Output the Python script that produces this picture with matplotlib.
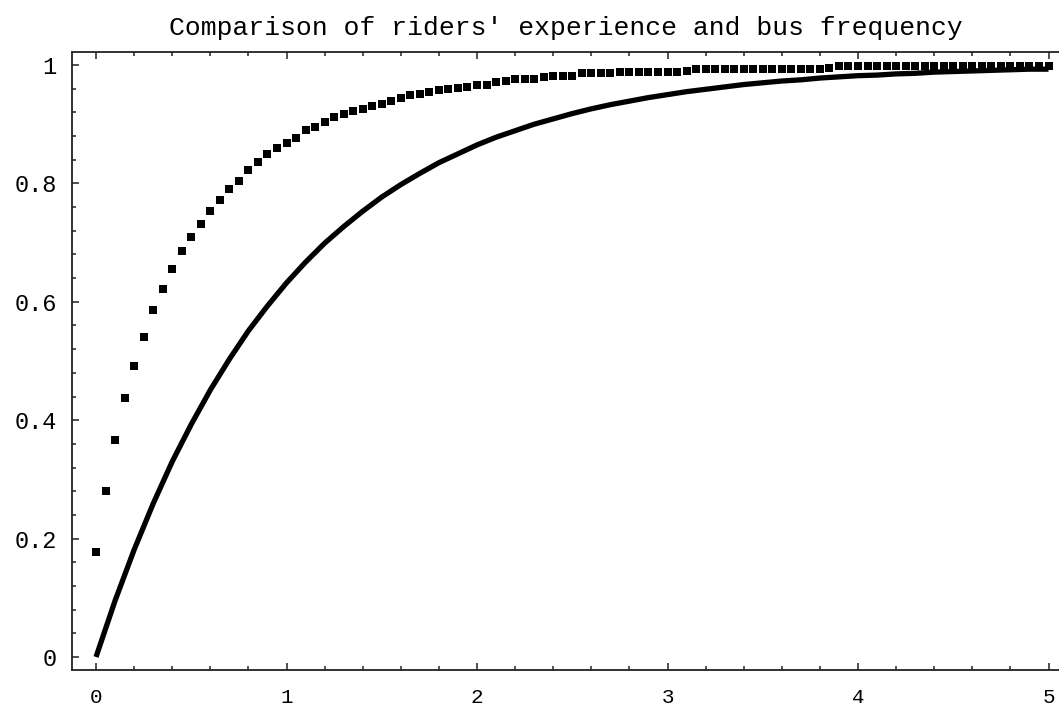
import numpy as np
import matplotlib.pyplot as plt
from matplotlib.ticker import MultipleLocator, FixedLocator

TITLE = "Comparison of riders' experience and bus frequency"

# riders' experience, sampled every 0.05 (square markers)
riders = [0.177, 0.280, 0.366, 0.438, 0.492, 0.541, 0.587, 0.622, 0.655, 0.686,
          0.710, 0.732, 0.754, 0.772, 0.790, 0.804, 0.823, 0.836, 0.849, 0.859,
          0.868, 0.877, 0.890, 0.895, 0.904, 0.913, 0.918, 0.922, 0.926, 0.931,
          0.935, 0.940, 0.944, 0.950, 0.951, 0.954, 0.958, 0.959, 0.962, 0.963,
          0.967, 0.967, 0.972, 0.973, 0.976, 0.976, 0.977, 0.980, 0.981, 0.981,
          0.982, 0.986, 0.986, 0.986, 0.987, 0.989, 0.989, 0.989, 0.989, 0.989,
          0.989, 0.989, 0.990, 0.994, 0.994, 0.994, 0.994, 0.994, 0.994, 0.994,
          0.994, 0.994, 0.994, 0.994, 0.994, 0.994, 0.994, 0.995, 0.999, 0.999,
          0.999, 0.999, 0.999, 0.999, 0.999, 0.999, 0.999, 0.999, 0.999, 0.999,
          0.999, 0.999, 0.999, 0.999, 0.999, 0.999, 0.999, 0.999, 0.999, 0.999,
          0.999]
riders_x = np.linspace(0, 5, len(riders))

# bus frequency, read every 0.1 (solid curve)
bus = [0.000, 0.095, 0.181, 0.259, 0.330, 0.393, 0.451, 0.503, 0.551, 0.593,
       0.632, 0.667, 0.699, 0.727, 0.753, 0.777, 0.798, 0.817, 0.835, 0.850,
       0.865, 0.878, 0.889, 0.900, 0.909, 0.918, 0.926, 0.933, 0.939, 0.945,
       0.950, 0.955, 0.959, 0.963, 0.967, 0.970, 0.973, 0.975, 0.978, 0.980,
       0.982, 0.983, 0.985, 0.986, 0.988, 0.989, 0.990, 0.991, 0.992, 0.993,
       0.993]
bus_x = np.linspace(0, 5, len(bus))

x_ticks = [0, 1, 2, 3, 4, 5]
y_ticks = [0, 0.2, 0.4, 0.6, 0.8, 1]
y_labels = ["0", "0.2", "0.4", "0.6", "0.8", "1"]

plt.rcParams['font.family'] = ['Liberation Mono', 'DejaVu Sans Mono']

fig = plt.figure(figsize=(10.59, 7.09), dpi=100)
ax = fig.add_axes([72 / 1059, 39 / 709, (1059 - 72) / 1059, (670 - 52) / 709])

ax.plot(bus_x, bus, color="black", lw=3.8, solid_capstyle="butt")
ax.plot(riders_x, riders, ls="none", marker="s", ms=6.0, mew=0, color="black")

ax.set_xlim(-0.126, 5.055)
ax.set_ylim(-0.022, 1.022)

ax.xaxis.set_major_locator(FixedLocator(x_ticks))
ax.xaxis.set_minor_locator(MultipleLocator(0.2))
ax.yaxis.set_major_locator(FixedLocator(y_ticks))
ax.yaxis.set_minor_locator(FixedLocator(np.arange(0, 1.001, 0.04)))
ax.set_yticklabels(y_labels)

ax.tick_params(which="both", direction="in", top=True, right=False,
               width=1.1, color="#222222", labelsize=17)
ax.tick_params(which="major", length=5)
ax.tick_params(which="minor", length=2.8)
ax.tick_params(axis="x", pad=13, labelsize=15)
ax.tick_params(axis="y", pad=11)

ax.spines["right"].set_visible(False)
for s in ["left", "bottom", "top"]:
    ax.spines[s].set_linewidth(1.3)
    ax.spines[s].set_color("#222222")

ax.set_title(TITLE, fontsize=19, pad=12)

fig.savefig("out.png", dpi=100)
